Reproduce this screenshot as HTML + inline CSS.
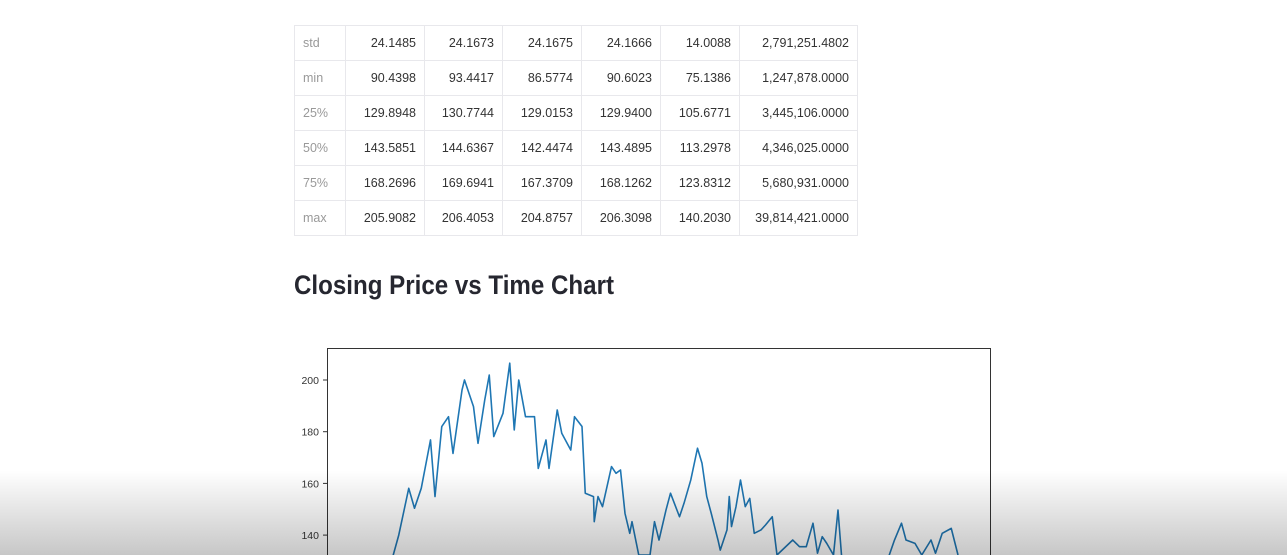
<!DOCTYPE html>
<html><head><meta charset="utf-8">
<style>
body{margin:0;width:1287px;height:555px;overflow:hidden;background:#fff;font-family:"Liberation Sans",sans-serif;position:relative}
table{position:absolute;left:294px;top:25px;border-collapse:collapse;font-size:12.5px}
td{border:1px solid #e8e8ec;height:35px;padding:0 8px;text-align:right;color:#333;box-sizing:border-box}
td.idx{text-align:left;color:#999;width:51px}
#shade{position:absolute;left:0;top:470px;width:1287px;height:85px;background:linear-gradient(to bottom,rgba(0,0,0,0),rgba(0,0,0,0.22));pointer-events:none}
</style></head><body>
<table>
<tr><td class="idx">std</td><td style="width:79px">24.1485</td><td style="width:78px">24.1673</td><td style="width:79px">24.1675</td><td style="width:79px">24.1666</td><td style="width:79px">14.0088</td><td style="width:118px">2,791,251.4802</td></tr>
<tr><td class="idx">min</td><td>90.4398</td><td>93.4417</td><td>86.5774</td><td>90.6023</td><td>75.1386</td><td>1,247,878.0000</td></tr>
<tr><td class="idx">25%</td><td>129.8948</td><td>130.7744</td><td>129.0153</td><td>129.9400</td><td>105.6771</td><td>3,445,106.0000</td></tr>
<tr><td class="idx">50%</td><td>143.5851</td><td>144.6367</td><td>142.4474</td><td>143.4895</td><td>113.2978</td><td>4,346,025.0000</td></tr>
<tr><td class="idx">75%</td><td>168.2696</td><td>169.6941</td><td>167.3709</td><td>168.1262</td><td>123.8312</td><td>5,680,931.0000</td></tr>
<tr><td class="idx">max</td><td>205.9082</td><td>206.4053</td><td>204.8757</td><td>206.3098</td><td>140.2030</td><td>39,814,421.0000</td></tr>
</table>
<svg style="position:absolute;left:0;top:0" width="1287" height="555">
<text x="294" y="294" font-size="27" font-weight="bold" fill="#262730" textLength="320" lengthAdjust="spacingAndGlyphs">Closing Price vs Time Chart</text>
<g id="chart">
<path d="M327.5 555 V348.5 H990.5 V555" fill="none" stroke="#333" stroke-width="1"/>
</g>
</svg>
<div id="shade"></div>
<script>
const days=[52,132,212,265,287,327,350,377,414,432,459,486,504,540,550,586,604,631,649,667,704,731,749,767,794,830,845,876,888,921,939,975,990,1020,1033,1066,1069,1084,1102,1138,1156,1174,1192,1211,1220,1247,1292,1310,1328,1356,1374,1410,1428,1455,1482,1500,1519,1537,1564,1573,1600,1609,1618,1636,1654,1673,1691,1709,1736,1754,1781,1800,1863,1890,1917,1944,1962,1981,1999,2026,2044,2058,2132,2212,2270,2298,2316,2352,2379,2416,2434,2461,2497,2524];
const closes=[100,112,124,132.3,140,158.1,150.4,158.1,176.8,154.9,182,185.8,171.6,196.1,200,189.7,175.5,192.3,201.9,178.1,187.1,206.5,180.7,200,185.8,185.8,165.8,176.8,165.8,188.4,179.4,172.9,185.8,182,156.2,154.9,145.2,154.9,151,166.5,163.9,165.2,148.4,140.7,145.2,132.3,132.3,145.2,138.1,149.7,156.2,147.1,152.3,161.3,173.6,167.8,154.9,148.4,138.1,134.2,142,154.9,143.3,151,161.3,151,154.2,140.7,142,143.9,147.1,132.3,138.1,135.5,135.5,144.6,133,139.4,136.8,132.3,149.7,132.3,120,122,138.1,144.6,138.1,136.8,132.3,138.1,133,140.7,142.6,132.3];
const yTicks=[140,160,180,200];
const NS='http://www.w3.org/2000/svg';
const xS=d=>327+d/4;
const yS=v=>380+(200-v)*2.585;
const g=document.getElementById('chart');
yTicks.forEach(t=>{
 const l=document.createElementNS(NS,'line');
 
 
 l.setAttribute('x1',323);l.setAttribute('x2',327);l.setAttribute('y1',yS(t));l.setAttribute('y2',yS(t));l.setAttribute('stroke','#333');
 g.appendChild(l);
 const tx=document.createElementNS(NS,'text');
 
 
 tx.setAttribute('x',319);tx.setAttribute('y',yS(t)+4);tx.setAttribute('text-anchor','end');tx.setAttribute('font-size','10.5');tx.setAttribute('fill','#333');
 tx.textContent=t;g.appendChild(tx);
});
const p=document.createElementNS(NS,'polyline');


p.setAttribute('points',days.map((d,i)=>xS(d)+','+yS(closes[i])).join(' '));
p.setAttribute('fill','none');p.setAttribute('stroke','#1f77b4');p.setAttribute('stroke-width','1.6');p.setAttribute('stroke-linejoin','round');
g.appendChild(p);
</script>
</body></html>
